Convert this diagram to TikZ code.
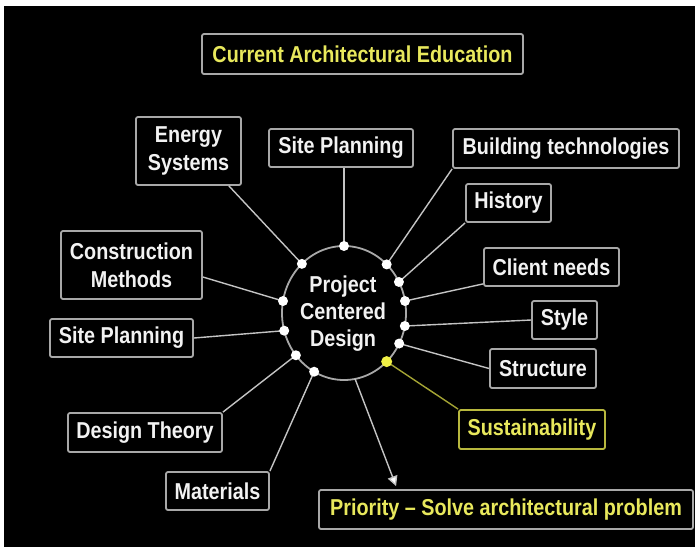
\documentclass[tikz,border=0pt]{standalone}
\usepackage{fontspec}
\usetikzlibrary{calc,arrows.meta}
\newfontfamily\boxfont{Liberation Sans}[UprightFont=* Bold, FakeStretch=0.86, Ligatures=TeX]

\definecolor{boxgray}{HTML}{A8A8A8}
\definecolor{linegray}{HTML}{C4C4C4}
\definecolor{txtwhite}{HTML}{F2F2F2}
\definecolor{txtyellow}{HTML}{E8E85C}
\definecolor{olive}{HTML}{B8B83E}
\definecolor{oliveline}{HTML}{A4A434}
\definecolor{dotyellow}{HTML}{F0F046}

\tikzset{
  box/.style={draw=boxgray, line width=1.8pt, rounded corners=2pt, fill=black,
    text=txtwhite, inner sep=0pt, align=center,
    font=\boxfont\fontsize{23}{28}\selectfont},
  ybox/.style={box, text=txtyellow},
  link/.style={draw=linegray, line width=1.4pt},
  ylink/.style={draw=oliveline, line width=1.4pt},
  dot/.style={circle, fill=white, inner sep=0pt, minimum size=10pt},
  ydot/.style={circle, fill=dotyellow, inner sep=0pt, minimum size=11pt},
}

\begin{document}
\begin{tikzpicture}[x=1pt, y=-1pt]
  \useasboundingbox (0,0) rectangle (696,550);
  \fill[white] (0,0) rectangle (696,550);
  \fill[black] (4,6) rectangle (695,547);

  % title
  \node[ybox, minimum width=321pt, minimum height=40pt] (title) at (362.5,54) {Current Architectural Education};

  % central hub
  \coordinate (c) at (344,313);
  \draw[draw=boxgray, line width=1.8pt] (c) ellipse [x radius=62, y radius=67];
  \node[text=txtwhite, align=center, inner sep=0pt,
        font=\boxfont\fontsize{23}{27}\selectfont] (hub) at (343,314) {Project\\Centered\\Design};

  % topic boxes
  \node[box, minimum width=105pt, minimum height=68pt] (energy) at (188.5,151) {Energy\\Systems};
  \node[box, minimum width=144pt, minimum height=38pt] (sitetop) at (341,148) {Site Planning};
  \node[box, minimum width=226pt, minimum height=39pt] (build) at (566,148.5) {Building technologies};
  \node[box, minimum width=85pt, minimum height=38pt] (history) at (508.5,203) {History};
  \node[box, minimum width=135pt, minimum height=38pt] (client) at (551.5,267) {Client needs};
  \node[box, minimum width=65pt, minimum height=38pt] (style) at (564.5,320) {Style};
  \node[box, minimum width=106pt, minimum height=39pt] (structure) at (543,368.5) {Structure};
  \node[ybox, draw=olive, minimum width=146pt, minimum height=39pt] (sustain) at (532,429.5) {Sustainability};
  \node[ybox, minimum width=374pt, minimum height=39pt] (priority) at (506,509.5) {Priority – Solve architectural problem};
  \node[box, minimum width=141pt, minimum height=68pt] (construction) at (131.5,265) {Construction\\Methods};
  \node[box, minimum width=143pt, minimum height=38pt] (siteleft) at (121.5,338) {Site Planning};
  \node[box, minimum width=154pt, minimum height=39pt] (theory) at (145,432.5) {Design Theory};
  \node[box, minimum width=103pt, minimum height=38pt] (materials) at (217.5,491) {Materials};

  % attachment points on the hub outline
  \foreach \n/\a in {top/-90, en/-132.8, bt/-46.5, hi/-27.6, cn/-10.3, st/11.2,
                     su/27.1, ys/46.5, co/-169.7, sl/164.7, dt/140.9, ma/118.8, pr/79.7}
    \coordinate (p\n) at ($(c)+({62*cos(\a)},{67*sin(\a)})$);

  % connectors
  \draw[link] ([xshift=-13pt]energy.south east) -- (pen);
  \draw[link] ([xshift=3pt]sitetop.south) -- (ptop);
  \draw[link] (build.south west) -- (pbt);
  \draw[link] (history.south west) -- (phi);
  \draw[link] ([yshift=3pt]client.south west) -- (pcn);
  \draw[link] (style.west) -- (pst);
  \draw[link] (structure.west) -- (psu);
  \draw[ylink] (sustain.north west) -- (pys);
  \draw[link] ([yshift=-12pt]construction.east) -- (pco);
  \draw[link] (siteleft.east) -- (psl);
  \draw[link] (theory.north east) -- (pdt);
  \draw[link] (materials.north east) -- (pma);
  \draw[link, -{Triangle[width=10pt,length=10pt,fill=white]}]
    (ppr) -- ([xshift=78pt,yshift=3pt]priority.north west);

  % hub dots
  \foreach \n in {top,en,bt,hi,cn,st,su,co,sl,dt,ma}
    \node[dot] (d\n) at (p\n) {};
  \node[ydot] (dys) at (pys) {};
\end{tikzpicture}
\end{document}
